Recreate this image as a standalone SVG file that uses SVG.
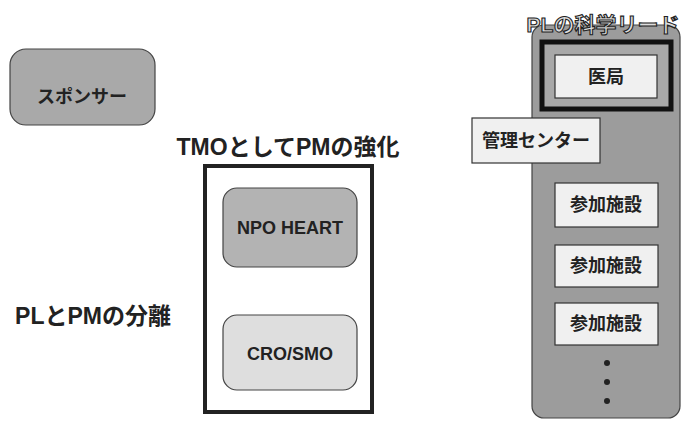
<svg xmlns="http://www.w3.org/2000/svg" width="684" height="428" viewBox="0 0 684 428">
<style>
text{font-family:"Liberation Sans","Noto Sans CJK JP",sans-serif;font-weight:bold;fill:#222;text-anchor:middle;dominant-baseline:central}
.t{font-size:23px}
.n{font-size:18px}
.w{fill:#f0f0f0;stroke:#333;stroke-width:1.2}
</style>
<rect width="684" height="428" fill="#ffffff"/>
<g id="sponsor">
<rect x="10" y="49" width="145" height="76" rx="16" fill="#a9a9a9" stroke="#444" stroke-width="1.2"/>
<text class="n" x="82" y="97">スポンサー</text>
</g>
<g id="label-pl-pm">
<text class="t" x="93" y="316">PLとPMの分離</text>
</g>
<g id="tmo">
<text class="t" x="288" y="147">TMOとしてPMの強化</text>
<rect x="205" y="166" width="167" height="246" fill="#ffffff" stroke="#222" stroke-width="4"/>
</g>
<g id="npo-heart">
<rect x="223" y="188" width="134" height="79" rx="14" fill="#b3b3b3" stroke="#444" stroke-width="1.2"/>
<text class="n" x="290" y="228">NPO HEART</text>
</g>
<g id="cro-smo">
<rect x="223" y="315" width="134" height="75" rx="14" fill="#dedede" stroke="#444" stroke-width="1.2"/>
<text class="n" x="290" y="354">CRO/SMO</text>
</g>
<g id="pl-lead">
<rect x="532" y="25" width="148" height="393" rx="12" fill="#9c9c9c" stroke="#444" stroke-width="1.2"/>
<text x="603" y="24" style="font-size:21px;fill:#dcdcdc;stroke:#222;stroke-width:1.1">PLの科学リード</text>
</g>
<g id="ikyoku">
<rect x="542" y="42" width="129" height="67" fill="#a8a8a8" stroke="#111" stroke-width="5"/>
<rect class="w" x="555" y="55" width="102" height="43"/>
<text class="n" x="606" y="77">医局</text>
</g>
<g id="kanri-center">
<rect class="w" x="472" y="118" width="128" height="45"/>
<text class="n" x="536" y="141">管理センター</text>
</g>
<g id="site1">
<rect class="w" x="555" y="183" width="103" height="44"/>
<text class="n" x="606" y="205">参加施設</text>
</g>
<g id="site2">
<rect class="w" x="555" y="245" width="103" height="42"/>
<text class="n" x="606" y="266">参加施設</text>
</g>
<g id="site3">
<rect class="w" x="555" y="303" width="103" height="42"/>
<text class="n" x="606" y="324">参加施設</text>
</g>
<g id="dots" fill="#222">
<circle cx="607" cy="363" r="3"/>
<circle cx="607" cy="382" r="3"/>
<circle cx="607" cy="401" r="3"/>
</g>
<g id="connectors"></g>
</svg>
